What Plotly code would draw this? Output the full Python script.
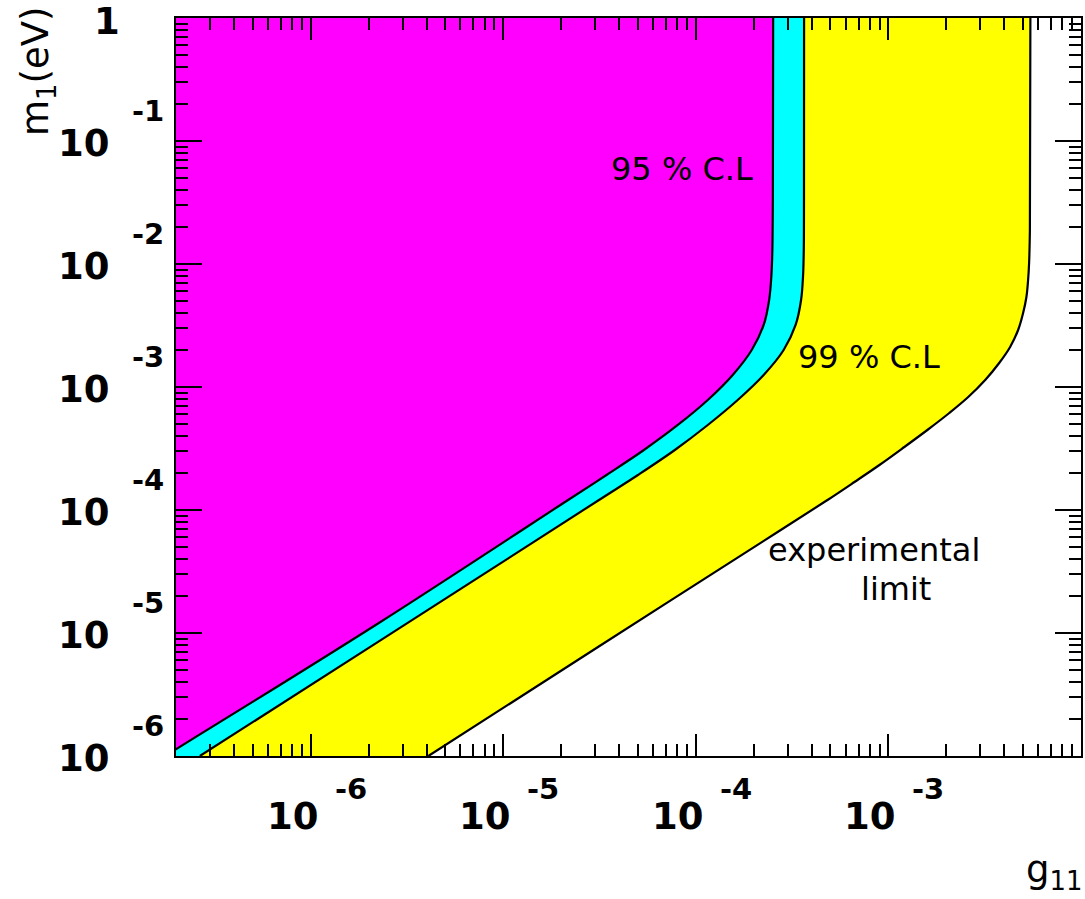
import numpy as np
import plotly.graph_objects as go

# ---------------- data ----------------
# 95 % C.L. boundary (magenta / cyan)
g_95 = [1.97e-7, 2.25e-6, 2.172e-5, 3.437e-5, 5.377e-5, 8.065e-5, 1.154e-4,
        1.555e-4, 1.951e-4, 2.251e-4, 2.403e-4, 2.470e-4, 2.497e-4, 2.512e-4,
        2.521e-4]
m_95 = [1.12e-6, 1.20e-5, 1.206e-4, 1.926e-4, 3.075e-4, 4.911e-4, 7.837e-4,
        1.252e-3, 1.999e-3, 3.193e-3, 5.096e-3, 8.137e-3, 1.299e-2, 3.314e-2,
        1.0]

# 99 % C.L. boundary (cyan / yellow)
g_99 = [2.66e-7, 2.25e-6, 3.143e-5, 5.006e-5, 7.782e-5, 1.154e-4, 1.650e-4,
        2.251e-4, 2.858e-4, 3.297e-4, 3.520e-4, 3.606e-4, 3.636e-4, 3.645e-4,
        3.649e-4]
m_99 = [1.0e-6, 8.50e-6, 1.206e-4, 1.926e-4, 3.075e-4, 4.911e-4, 7.837e-4,
        1.252e-3, 1.999e-3, 3.193e-3, 5.096e-3, 8.137e-3, 1.299e-2, 3.314e-2,
        1.0]

# experimental limit (yellow / white)
g_exp = [4.087e-6, 3.106e-5, 2.660e-4, 4.83e-4, 6.664e-4, 8.982e-4, 1.210e-3,
         1.593e-3, 2.071e-3, 2.597e-3, 3.181e-3, 3.760e-3, 4.286e-3, 4.716e-3,
         5.006e-3, 5.207e-3, 5.313e-3, 5.377e-3, 5.427e-3, 5.46e-3]
m_exp = [1.0e-6, 7.69e-6, 6.624e-5, 1.206e-4, 1.689e-4, 2.322e-4, 3.253e-4,
         4.471e-4, 6.146e-4, 8.29e-4, 1.140e-3, 1.567e-3, 2.115e-3, 2.907e-3,
         3.996e-3, 5.391e-3, 7.41e-3, 1.019e-2, 1.890e-2, 1.0]

# axes
x_range = [2e-7, 1e-2]
y_range = [1e-6, 1.0]
x_major = [1e-6, 1e-5, 1e-4, 1e-3]
x_exp_labels = ["-6", "-5", "-4", "-3"]
y_major = [1e-6, 1e-5, 1e-4, 1e-3, 1e-2, 1e-1]
y_exp_labels = ["-6", "-5", "-4", "-3", "-2", "-1"]
y_top_label = "1"

x_minor = [k * 10.0 ** d for d in range(-7, -2) for k in range(2, 10)
           if x_range[0] <= k * 10.0 ** d <= x_range[1]]
y_minor = [k * 10.0 ** d for d in range(-6, 0) for k in range(2, 10)]

MAGENTA = "#FF00FF"
CYAN = "#00FFFF"
YELLOW = "#FFFF00"

fig = go.Figure()

for gx, my, col in [(g_exp, m_exp, YELLOW), (g_99, m_99, CYAN), (g_95, m_95, MAGENTA)]:
    fig.add_trace(go.Scatter(
        x=gx, y=my, mode="lines", fill="tozerox", fillcolor=col,
        line=dict(color="black", width=2.2, shape="spline", smoothing=1.0),
        showlegend=False, hoverinfo="skip"))

axis_common = dict(
    type="log", showgrid=False, zeroline=False,
    showline=True, linecolor="black", linewidth=2, mirror="ticks",
    ticks="inside", tickcolor="black", tickwidth=2,
    showticklabels=False,
)
fig.update_xaxes(**axis_common, range=[np.log10(x_range[0]), np.log10(x_range[1])],
                 tickvals=x_major, ticklen=22,
                 minor=dict(tickvals=x_minor, ticks="inside", ticklen=12,
                            tickwidth=2, tickcolor="black", showgrid=False))
fig.update_yaxes(**axis_common, range=[np.log10(y_range[0]), np.log10(y_range[1])],
                 tickvals=y_major + [1.0], ticklen=26,
                 minor=dict(tickvals=y_minor, ticks="inside", ticklen=12,
                            tickwidth=2, tickcolor="black", showgrid=False))

BIG = dict(family="DejaVu Sans", size=37, color="black", weight="bold")
EXP = dict(family="DejaVu Sans", size=29, color="black", weight="bold")

ann = []
for v, e in zip(x_major, x_exp_labels):
    ann.append(dict(x=np.log10(v), xref="x", y=0, yref="paper", text="10",
                    xanchor="right", yanchor="middle", xshift=9, yshift=-60,
                    showarrow=False, font=BIG, borderpad=0))
    ann.append(dict(x=np.log10(v), xref="x", y=0, yref="paper", text=e,
                    xanchor="left", yanchor="middle", xshift=23, yshift=-33,
                    showarrow=False, font=EXP, borderpad=0))
for v, e in zip(y_major, y_exp_labels):
    ann.append(dict(x=0, xref="paper", y=np.log10(v), yref="y", text="10",
                    xanchor="right", yanchor="middle", xshift=-65, yshift=-2,
                    showarrow=False, font=BIG, borderpad=0))
    ann.append(dict(x=0, xref="paper", y=np.log10(v), yref="y", text=e,
                    xanchor="right", yanchor="middle", xshift=-11, yshift=30,
                    showarrow=False, font=EXP, borderpad=0))
ann.append(dict(x=0, xref="paper", y=0, yref="y", text=y_top_label,
                xanchor="right", yanchor="middle", xshift=-55, yshift=-3,
                showarrow=False, font=BIG, borderpad=0))

# axis titles
TITLE = dict(family="DejaVu Sans", size=37, color="black")
ann.append(dict(x=1, xref="paper", y=0, yref="paper", text="g<sub>11</sub>",
                xanchor="right", yanchor="middle", xshift=2, yshift=-116,
                showarrow=False, font=TITLE, borderpad=0))
ann.append(dict(x=0, xref="paper", y=1, yref="paper", text="m<sub>1</sub>(eV)",
                textangle=-90, xanchor="center", yanchor="middle",
                xshift=-138, yshift=-54, showarrow=False, font=TITLE, borderpad=0))

# in-plot texts
TXT = dict(family="DejaVu Sans", size=32, color="black")
ann.append(dict(x=np.log10(3.58e-5), y=np.log10(5.92e-2), xref="x", yref="y",
                text="95 % C.L", xanchor="left", yanchor="middle",
                showarrow=False, font=TXT, borderpad=0))
ann.append(dict(x=np.log10(3.37e-4), y=np.log10(1.75e-3), xref="x", yref="y",
                text="99 % C.L", xanchor="left", yanchor="middle",
                showarrow=False, font=TXT, borderpad=0))
ann.append(dict(x=np.log10(8.45e-4), y=np.log10(4.73e-5), xref="x", yref="y",
                text="experimental", xanchor="center", yanchor="middle",
                showarrow=False, font=TXT, borderpad=0))
ann.append(dict(x=np.log10(1.10e-3), y=np.log10(2.3e-5), xref="x", yref="y",
                text="limit", xanchor="center", yanchor="middle",
                showarrow=False, font=TXT, borderpad=0))

fig.update_layout(
    width=1085, height=899, autosize=False,
    margin=dict(l=176, r=2, t=18, b=143),
    paper_bgcolor="white", plot_bgcolor="white",
    annotations=ann, showlegend=False,
)

fig.write_html("out.html")
